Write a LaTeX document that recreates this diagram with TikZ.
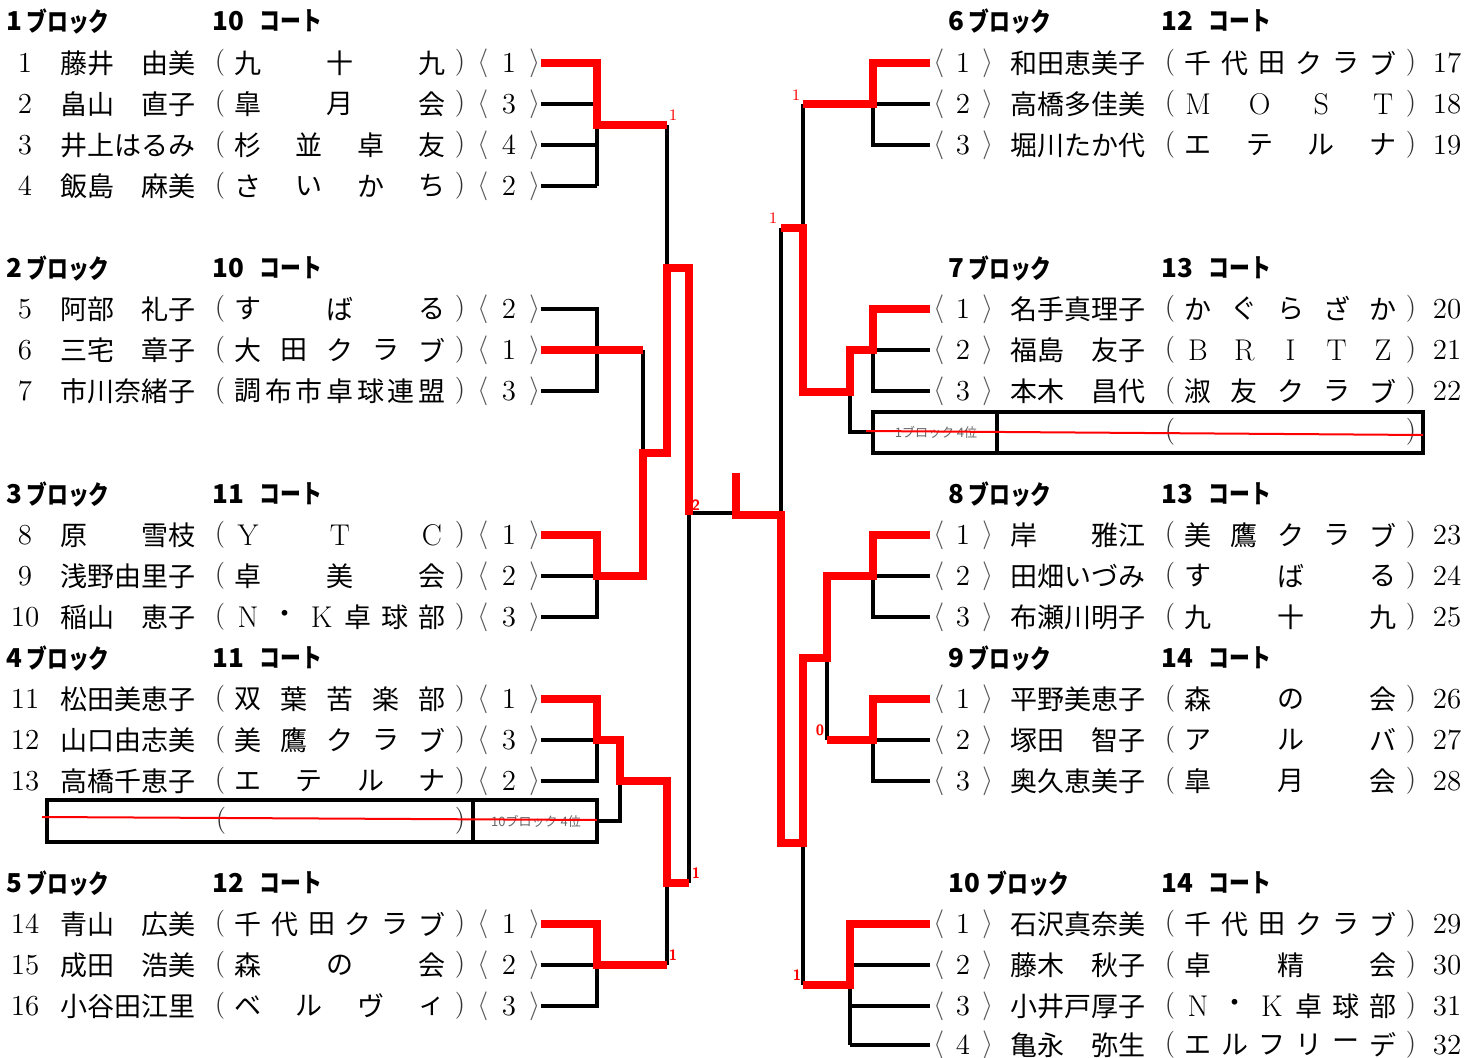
\documentclass[tikz,border=0pt]{standalone}
\usepackage{fontspec}
\usepackage{graphicx}
\newfontfamily\jp{Noto Sans CJK JP}
\newcommand\lm{\rmfamily\fontsize{15}{15}\selectfont}
\newcommand\kn[1]{\scalebox{0.8}[1]{#1}}
\newcommand\lrow[6]{%
  \node[numf] (num#2) at (25,#1) {#2};
  \node[namef] (nm#2) at (60,#1) {#3};
  \node[parf] (po#2) at (220,#1) {(};
  \foreach \ch [count=\i] in {#5} {\node[clubf] (c#2-\i) at ({248+(\i-1)*184/(#4-1)},#1) {\ch};}
  \node[parf] (pc#2) at (460,#1) {)};
  \node[brf] (bo#2) at (483,#1) {$\langle$};
  \node[numf] (sd#2) at (509,#1) {#6};
  \node[brf] (bc#2) at (535,#1) {$\rangle$};
}
\newcommand\rrow[6]{%
  \node[brf] (bo#6) at (939,#1) {$\langle$};
  \node[numf] (sd#6) at (963,#1) {#2};
  \node[brf] (bc#6) at (988,#1) {$\rangle$};
  \node[namef] (nm#6) at (1010,#1) {#3};
  \node[parf] (po#6) at (1170,#1) {(};
  \foreach \ch [count=\i] in {#5} {\node[clubf] (c#6-\i) at ({1198+(\i-1)*185/(#4-1)},#1) {\ch};}
  \node[parf] (pc#6) at (1411,#1) {)};
  \node[numf] (num#6) at (1447,#1) {#6};
}
\begin{document}
\begin{tikzpicture}[x=0.5pt,y=-0.5pt,
  bk/.style={line width=1.6pt, line join=miter},
  rd/.style={line width=3.7pt, red, line join=miter},
  thinred/.style={line width=1pt, red},
  namef/.style={font=\jp\fontsize{13.5}{14}\selectfont, inner sep=0, anchor=west},
  clubf/.style={font=\jp\fontsize{13.5}{14}\selectfont, inner sep=0},
  numf/.style={font=\fontsize{14.5}{15}\selectfont, inner sep=0},
  parf/.style={font=\fontsize{13.5}{14}\selectfont, inner sep=0, text=black!80},
  brf/.style={font=\fontsize{13.5}{14}\selectfont, inner sep=0, text=black!65},
  hdd/.style={font=\jp\bfseries\fontsize{13}{13}\selectfont, inner sep=0, anchor=west},
  hdk/.style={font=\jp\bfseries\fontsize{13}{13}\selectfont, inner sep=0, anchor=west},
  boxt/.style={font=\jp\fontsize{6.5}{7}\selectfont, inner sep=0, text=black!60},
  lab/.style={text=red, font=\fontsize{8}{8}\selectfont, inner sep=0},
  labs/.style={text=red, font=\sffamily\bfseries\fontsize{7.5}{8}\selectfont, inner sep=0}
]
\useasboundingbox (0,0) rectangle (1482,1058);

% ---------- headers left ----------
\foreach \y/\b/\c [count=\k] in {21/1/10,268/2/10,494/3/11,658/4/11,883/5/12} {
  \node[hdd] (hbL\k) at (6,\y) {\b};
  \node[hdk] (hkL\k) at (26,\y) {\kn{ブロック}};
  \node[hdd] (hcL\k) at (212,\y) {\c};
  \node[hdk] (hkcL\k) at (259,\y) {\kn{コート}};
}
% ---------- headers right ----------
\foreach \y/\b/\c [count=\k] in {21/6/12,268/7/13,494/8/13,658/9/14} {
  \node[hdd] (hbR\k) at (948,\y) {\b};
  \node[hdk] (hkR\k) at (968,\y) {\kn{ブロック}};
  \node[hdd] (hcR\k) at (1161,\y) {\c};
  \node[hdk] (hkcR\k) at (1208,\y) {\kn{コート}};
}
\node[hdd] (hbR5) at (948,883) {10};
\node[hdk] (hkR5) at (986,883) {\kn{ブロック}};
\node[hdd] (hcR5) at (1161,883) {14};
\node[hdk] (hkcR5) at (1208,883) {\kn{コート}};

% ---------- left rows ----------
\lrow{63}{1}{藤井　由美}{3}{九,十,九}{1}
\lrow{104}{2}{畠山　直子}{3}{皐,月,会}{3}
\lrow{145}{3}{井上はるみ}{4}{杉,並,卓,友}{4}
\lrow{186}{4}{飯島　麻美}{4}{さ,い,か,ち}{2}
\lrow{309}{5}{阿部　礼子}{3}{す,ば,る}{2}
\lrow{350}{6}{三宅　章子}{5}{大,田,ク,ラ,ブ}{1}
\lrow{391}{7}{市川奈緒子}{7}{調,布,市,卓,球,連,盟}{3}
\lrow{535}{8}{原　　雪枝}{3}{\lm Y,\lm T,\lm C}{1}
\lrow{576}{9}{浅野由里子}{3}{卓,美,会}{2}
\lrow{617}{10}{稲山　恵子}{6}{\lm N,・,\lm K,卓,球,部}{3}
\lrow{699}{11}{松田美恵子}{5}{双,葉,苦,楽,部}{1}
\lrow{740}{12}{山口由志美}{5}{美,鷹,ク,ラ,ブ}{3}
\lrow{781}{13}{高橋千恵子}{4}{エ,テ,ル,ナ}{2}
\lrow{924}{14}{青山　広美}{6}{千,代,田,ク,ラ,ブ}{1}
\lrow{965}{15}{成田　浩美}{3}{森,の,会}{2}
\lrow{1006}{16}{小谷田江里}{4}{ベ,ル,ヴ,ィ}{3}

% ---------- right rows ----------
\rrow{63}{1}{和田恵美子}{6}{千,代,田,ク,ラ,ブ}{17}
\rrow{104}{2}{高橋多佳美}{4}{\lm M,\lm O,\lm S,\lm T}{18}
\rrow{145}{3}{堀川たか代}{4}{エ,テ,ル,ナ}{19}
\rrow{309}{1}{名手真理子}{5}{か,ぐ,ら,ざ,か}{20}
\rrow{350}{2}{福島　友子}{5}{\lm B,\lm R,\lm I,\lm T,\lm Z}{21}
\rrow{391}{3}{本木　昌代}{5}{淑,友,ク,ラ,ブ}{22}
\rrow{535}{1}{岸　　雅江}{5}{美,鷹,ク,ラ,ブ}{23}
\rrow{576}{2}{田畑いづみ}{3}{す,ば,る}{24}
\rrow{617}{3}{布瀬川明子}{3}{九,十,九}{25}
\rrow{699}{1}{平野美恵子}{3}{森,の,会}{26}
\rrow{740}{2}{塚田　智子}{3}{ア,ル,バ}{27}
\rrow{781}{3}{奥久恵美子}{3}{皐,月,会}{28}
\rrow{924}{1}{石沢真奈美}{6}{千,代,田,ク,ラ,ブ}{29}
\rrow{965}{2}{藤木　秋子}{3}{卓,精,会}{30}
\rrow{1006}{3}{小井戸厚子}{6}{\lm N,・,\lm K,卓,球,部}{31}
\rrow{1045}{4}{亀永　弥生}{6}{エ,ル,フ,リ,ー,デ}{32}

% ---------- boxes ----------
\draw[bk] (47,800) rectangle (597,842);
\draw[bk] (473,800) -- (473,842);
\node[parf] (bxLo) at (221,821) {(};
\node[parf] (bxLc) at (460,821) {)};
\node[boxt] (bxLt) at (536,821) {10ブロック 4位};
\draw[thinred] (42,817) -- (597,820);

\draw[bk] (873,412) rectangle (1423,453);
\draw[bk] (997,412) -- (997,453);
\node[parf] (bxRo) at (1170,432) {(};
\node[parf] (bxRc) at (1411,432) {)};
\node[boxt] (bxRt) at (936,432) {1ブロック 4位};

% ---------- black bracket lines ----------
% left
\draw[bk] (541,104) -- (597,104);
\draw[bk] (597,125) -- (597,186);
\draw[bk] (541,145) -- (597,145);
\draw[bk] (541,186) -- (597,186);
\draw[bk] (667,125) -- (667,268);
\draw[bk] (541,309) -- (597,309) -- (597,391) -- (541,391);
\draw[bk] (643,350) -- (643,453);
\draw[bk] (541,576) -- (597,576) -- (597,617) -- (541,617);
\draw[bk] (541,740) -- (597,740) -- (597,781) -- (541,781);
\draw[bk] (620,781) -- (620,821) -- (597,821);
\draw[bk] (541,965) -- (597,965) -- (597,1006) -- (541,1006);
\draw[bk] (667,883) -- (667,965);
% center
\draw[bk] (689,515) -- (689,883);
\draw[bk] (689,513) -- (736,513);
\draw[bk] (781,228) -- (781,515);
% right
\draw[bk] (873,104) -- (930,104);
\draw[bk] (873,104) -- (873,145) -- (930,145);
\draw[bk] (803,104) -- (803,228);
\draw[bk] (873,350) -- (930,350);
\draw[bk] (873,350) -- (873,391) -- (930,391);
\draw[bk] (850,392) -- (850,432) -- (873,432);
\draw[bk] (873,576) -- (930,576);
\draw[bk] (873,576) -- (873,617) -- (930,617);
\draw[bk] (827,658) -- (827,740);
\draw[bk] (873,740) -- (930,740);
\draw[bk] (873,740) -- (873,781) -- (930,781);
\draw[bk] (803,843) -- (803,985);
\draw[bk] (850,985) -- (850,1045);
\draw[bk] (850,965) -- (930,965);
\draw[bk] (850,1006) -- (930,1006);
\draw[bk] (850,1045) -- (930,1045);

\draw[thinred] (866,431) -- (1423,435);

% ---------- red winner lines ----------
\draw[rd] (541,63) -- (597,63) -- (597,125) -- (667,125);
\draw[rd] (541,350) -- (643,350);
\draw[rd] (541,535) -- (597,535) -- (597,576) -- (643,576) -- (643,453) -- (667,453) -- (667,268) -- (689,268) -- (689,515);
\draw[rd] (541,699) -- (597,699) -- (597,740) -- (620,740) -- (620,781) -- (667,781) -- (667,883) -- (689,883);
\draw[rd] (541,924) -- (597,924) -- (597,965) -- (667,965);
\draw[rd] (736,473) -- (736,515) -- (781,515) -- (781,843) -- (803,843) -- (803,658) -- (827,658) -- (827,576) -- (873,576) -- (873,535) -- (930,535);
\draw[rd] (930,63) -- (873,63) -- (873,104) -- (803,104);
\draw[rd] (781,228) -- (803,228) -- (803,392) -- (850,392) -- (850,350) -- (873,350) -- (873,309) -- (930,309);
\draw[rd] (827,740) -- (873,740) -- (873,699) -- (930,699);
\draw[rd] (803,985) -- (850,985) -- (850,924) -- (930,924);

% ---------- score labels ----------
\node[lab] (s1) at (673,115) {1};
\node[labs] (s2) at (696,505) {2};
\node[labs] (s3) at (696,873) {1};
\node[labs] (s4) at (673,955) {1};
\node[lab] (s5) at (796,95) {1};
\node[lab] (s6) at (773,218) {1};
\node[labs] (s7) at (820,730) {0};
\node[labs] (s8) at (797,975) {1};
\end{tikzpicture}
\end{document}
